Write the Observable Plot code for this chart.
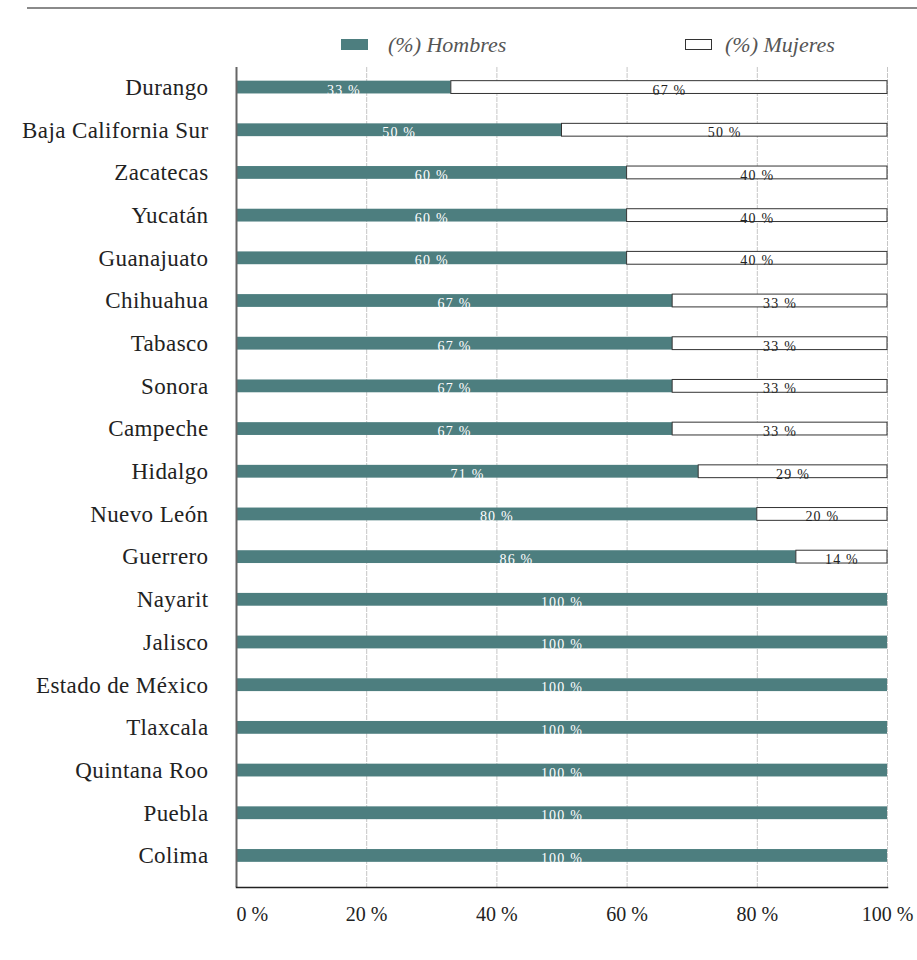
<!DOCTYPE html>
<html><head><meta charset="utf-8">
<script src="https://cdn.jsdelivr.net/npm/d3@7"></script>
<script src="https://cdn.jsdelivr.net/npm/@observablehq/plot@0.6"></script>
<style>
body{margin:0;background:#fff;font-family:"Liberation Serif",serif;}
#wrap{position:relative;width:917px;}
#head{position:relative;height:60px;}
#rule{position:absolute;left:27px;top:7px;width:890px;height:2px;background:#8a8a8a;}
.sw{position:absolute;top:39px;width:27px;height:11px;box-sizing:border-box;}
.lt{position:absolute;top:33px;font-style:italic;font-size:22px;color:#555;line-height:24px;}
#chart svg g[aria-label="text"] text{letter-spacing:1.2px;}
#chart svg g[aria-label="y-axis tick label"] text{letter-spacing:0.4px;}
</style></head><body>
<div id="wrap"><div id="head">
<div id="rule"></div>
<div class="sw" style="left:341px;background:#4d7e7f"></div><div class="lt" style="left:388px">(%) Hombres</div>
<div class="sw" style="left:685px;border:1px solid #333;background:#fff"></div><div class="lt" style="left:725px">(%) Mujeres</div>
</div><div id="chart"></div></div>
<script>
const estados = ["Durango","Baja California Sur","Zacatecas","Yucatán","Guanajuato","Chihuahua","Tabasco","Sonora","Campeche","Hidalgo","Nuevo León","Guerrero","Nayarit","Jalisco","Estado de México","Tlaxcala","Quintana Roo","Puebla","Colima"];
const hombres = [33,50,60,60,60,67,67,67,67,71,80,86,100,100,100,100,100,100,100];
const mujeres = [67,50,40,40,40,33,33,33,33,29,20,14,0,0,0,0,0,0,0];
const ticks = [0,20,40,60,80,100];

const data = estados.map((e,i)=>({estado:e,h:hombres[i],m:mujeres[i]}));
const muj = data.filter(d=>d.m>0);
const fmt = d => d + " %";

const chart = Plot.plot({
  width: 917, height: 900,
  marginTop: 7, marginBottom: 73, marginLeft: 236, marginRight: 30,
  style: {fontFamily: '"Liberation Serif", serif', background: "#fff", overflow: "visible"},
  x: {domain: [0,100], axis: null},
  y: {domain: estados, paddingInner: 0.7, paddingOuter: 0.32, insetBottom: 11.5, round: false, axis: null},
  marks: [
    Plot.ruleX(ticks.filter(t=>t>0), {stroke:"#c6c6c6", strokeWidth:1, strokeDasharray:"5,1"}),
    Plot.barX(data, {y:"estado", x1:0, x2:"h", fill:"#4d7e7f"}),
    Plot.barX(muj, {y:"estado", x1:"h", x2:d=>d.h+d.m, fill:"#fff", stroke:"#333", strokeWidth:1}),
    Plot.text(data, {y:"estado", x:d=>d.h/2, text:d=>fmt(d.h), fill:"#fff", fontSize:14, dy:2.5}),
    Plot.text(muj, {y:"estado", x:d=>d.h+d.m/2, text:d=>fmt(d.m), fill:"#222", fontSize:14, dy:2.5}),
    Plot.ruleX([0], {stroke:"#666", strokeWidth:2}),
    Plot.frame({anchor:"bottom", stroke:"#222", strokeWidth:1.5}),
    Plot.axisY({tickSize:0, tickPadding:28, fontSize:23, color:"#222", label:null}),
    Plot.axisX({ticks: ticks.filter(t=>t>0), tickSize:0, tickPadding:19, tickFormat:fmt, fontSize:20, color:"#222", label:null}),
    Plot.axisX({ticks: [0], tickSize:0, tickPadding:19, tickFormat:fmt, fontSize:20, color:"#222", textAnchor:"start", label:null})
  ]
});
document.getElementById("chart").appendChild(chart);
</script>
</body></html>
